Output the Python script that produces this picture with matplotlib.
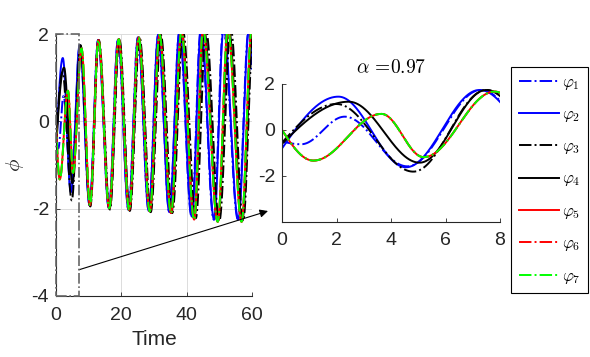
import numpy as np
import matplotlib
matplotlib.use("Agg")
import matplotlib.pyplot as plt
from matplotlib.patches import Rectangle

plt.rcParams['font.family'] = ['Liberation Sans', 'DejaVu Sans']
plt.rcParams['mathtext.fontset'] = 'cm'
plt.rcParams['axes.unicode_minus'] = False

# ---------------- data ----------------
labels = [r'$\varphi_1$', r'$\varphi_2$', r'$\varphi_3$', r'$\varphi_4$',
          r'$\varphi_5$', r'$\varphi_6$', r'$\varphi_7$']

# starting values at t = 0
start_vals = [-0.5, -0.8, -0.55, -0.6, 0.0, 0.0, 0.0]

# times and values of successive extrema (peaks / troughs) for each series
ext_t_phi1 = [0.7, 2.3, 4.6, 7.3, 10.3, 12.9, 16.2, 19.0, 22.2, 25.1, 28.4, 31.3,
              34.7, 37.8, 41.5, 44.3, 48.3, 51.2, 55.7, 59.0]
ext_y_phi1 = [-0.62, 0.58, -1.58, 1.74, -1.92, 1.86, -1.98, 1.87, -2.02, 1.92, -2.04, 1.98,
              -2.08, 2.05, -2.18, 2.1, -2.25, 2.12, -2.25, 2.1]
ext_t_phi2 = [2.07, 4.55, 7.25, 10.3, 12.9, 16.2, 19.0, 22.2, 25.1, 28.4, 31.3,
              34.7, 37.8, 41.6, 44.4, 48.4, 51.3, 55.8, 59.1]
ext_y_phi2 = [1.45, -1.62, 1.74, -1.92, 1.86, -1.99, 1.87, -2.03, 1.92, -2.05, 1.98,
              -2.08, 2.05, -2.18, 2.1, -2.25, 2.12, -2.25, 2.1]
ext_t_phi3 = [2.0, 4.82, 7.5, 10.5, 13.1, 16.5, 19.4, 22.6, 25.6, 29.0, 32.1,
              35.6, 38.9, 42.8, 45.9, 50.0, 53.5, 57.3, 60.4]
ext_y_phi3 = [1.13, -1.81, 1.74, -1.95, 1.86, -2.02, 1.88, -2.05, 1.92, -2.08, 1.98,
              -2.1, 2.05, -2.22, 2.1, -2.28, 2.12, -2.28, 2.1]
ext_t_phi4 = [2.45, 5.05, 7.5, 10.4, 13.0, 16.4, 19.3, 22.5, 25.4, 28.8, 31.8,
              35.3, 38.5, 42.3, 45.3, 49.6, 52.9, 57.0, 60.2]
ext_y_phi4 = [1.23, -1.42, 1.74, -1.93, 1.86, -2.0, 1.88, -2.04, 1.92, -2.06, 1.98,
              -2.1, 2.05, -2.22, 2.1, -2.28, 2.12, -2.28, 2.1]
ext_t_phi567 = [1.15, 3.65, 5.2, 7.8, 10.4, 13.0, 16.3, 19.2, 22.4, 25.3, 28.7, 31.7,
                35.2, 38.4, 42.3, 45.0, 49.5, 52.6, 56.8, 59.9]
ext_y_phi567 = [-1.33, 0.7, -1.18, 1.67, -1.92, 1.86, -1.99, 1.88, -2.03, 1.92, -2.06, 1.98,
                -2.1, 2.05, -2.25, 2.1, -2.3, 2.12, -2.3, 2.1]

ext_t = [ext_t_phi1, ext_t_phi2, ext_t_phi3, ext_t_phi4, ext_t_phi567, ext_t_phi567, ext_t_phi567]
ext_y = [ext_y_phi1, ext_y_phi2, ext_y_phi3, ext_y_phi4, ext_y_phi567, ext_y_phi567, ext_y_phi567]

colors = ['#0000ff', '#0000ff', '#000000', '#000000', '#ff0000', '#ff0000', '#00ff00']
styles = ['-.', '-', '-.', '-', '-', '-.', '-.']

main_xticks = [0, 20, 40, 60]
main_yticks = [-4, -2, 0, 2]
inset_xticks = [0, 2, 4, 6, 8]
inset_yticks = [-2, 0, 2]


def smooth_curve(y0, et, ey, t):
    """Smooth line through the read start value and extrema."""
    kt = np.array([0.0] + list(et))
    ky = np.array([y0] + list(ey))
    y = np.empty_like(t)
    for i, tt in enumerate(t):
        j = np.searchsorted(kt, tt, side='right') - 1
        j = min(max(j, 0), len(kt) - 2)
        s = (tt - kt[j]) / (kt[j + 1] - kt[j])
        if j == 0:
            w = np.sin(np.pi / 2 * s)
        else:
            w = (1 - np.cos(np.pi * s)) / 2
        y[i] = ky[j] + (ky[j + 1] - ky[j]) * w
    return y


fig = plt.figure(figsize=(5.9, 3.57), dpi=100)
W, H = 590, 357

axc = '#262626'
ax1 = fig.add_axes([56 / W, 1 - 296 / H, 196 / W, 262 / H])
ax2 = fig.add_axes([282 / W, 1 - 222 / H, 218 / W, 138 / H])

t_main = np.linspace(0, 60, 4000)
t_in = np.linspace(0, 8, 800)
handles = []
for k in range(7):
    ym = smooth_curve(start_vals[k], ext_t[k], ext_y[k], t_main)
    ax1.plot(t_main, ym, color=colors[k], ls=styles[k], lw=1.4)
    yi = smooth_curve(start_vals[k], ext_t[k], ext_y[k], t_in)
    h, = ax2.plot(t_in, yi, color=colors[k], ls=styles[k], lw=1.4)
    handles.append(h)

for ax in (ax1, ax2):
    for s in ('top', 'right'):
        ax.spines[s].set_visible(False)
    for s in ('left', 'bottom'):
        ax.spines[s].set_color(axc)
        ax.spines[s].set_linewidth(0.8)
    ax.tick_params(direction='in', length=3, width=0.6, colors=axc,
                   labelsize=14, pad=5)
ax1.tick_params(axis='x', pad=8)
ax2.tick_params(axis='x', pad=7)

ax1.set_xlim(0, 60)
ax1.set_ylim(-4, 2)
ax1.set_xticks(main_xticks)
ax1.set_yticks(main_yticks)
ax1.grid(True, color='#dcdcdc', lw=0.7)
ax1.set_axisbelow(True)
ax1.set_xlabel('Time', fontsize=15, color=axc, labelpad=4)
ax1.set_ylabel(r'$\phi$', fontsize=15, color=axc, labelpad=4)

ax2.set_xlim(0, 8)
ax2.set_ylim(-4, 2)
ax2.set_xticks(inset_xticks)
ax2.set_yticks(inset_yticks)
ax2.set_title(r'$\alpha$ =0.97', fontfamily='cmr10', fontsize=14, pad=8)

# zoom rectangle and arrow
ax1.add_patch(Rectangle((0, -4), 7, 6, fill=False, ls='-.', ec='#666666',
                        lw=1.2, clip_on=False, zorder=5))
ax1.annotate('', xy=(268 / W, 1 - 211 / H), xycoords='figure fraction',
             xytext=(7, -3.4), textcoords='data',
             arrowprops=dict(arrowstyle='-|>', color='k', lw=0.8,
                             mutation_scale=12, shrinkA=0, shrinkB=0),
             annotation_clip=False)

leg = fig.legend(handles, labels, loc='upper left',
                 bbox_to_anchor=(511 / W, 1 - 67 / H), bbox_transform=fig.transFigure,
                 fontsize=12, frameon=True, fancybox=False, edgecolor='k',
                 framealpha=1, handlelength=2.4, handletextpad=0.2,
                 labelspacing=0.92, borderpad=0.45, borderaxespad=0)
leg.get_frame().set_linewidth(0.8)

fig.savefig('out.png', dpi=100)
